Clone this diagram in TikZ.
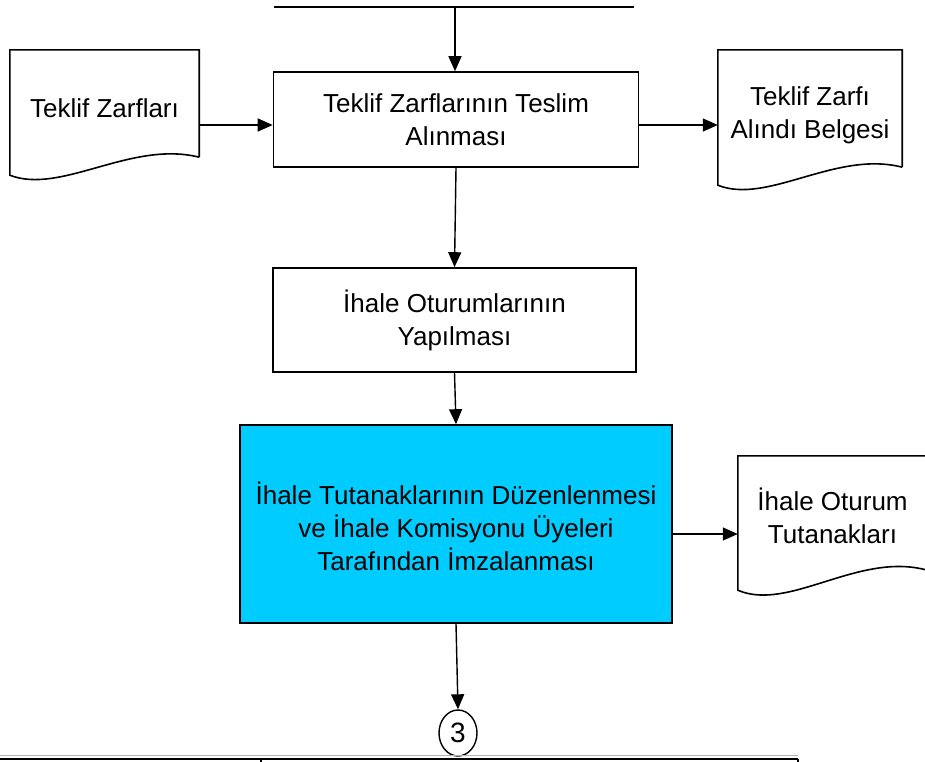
\documentclass[tikz,border=0pt]{standalone}
\usepackage{fontspec}
\setmainfont{Liberation Sans}
\usepackage{xcolor}
\definecolor{ihaleBlue}{HTML}{00CCFF}
\usepackage{tikz}
\usetikzlibrary{calc,arrows.meta,positioning,shapes.geometric}

% outline of a document symbol round a node: #1 node name, #2 wave drop
\newcommand{\docoutline}[2]{%
  \draw[docline] (#1.south east) -- (#1.north east) -- (#1.north west)
    -- ($(#1.south west)+(0,#2)$)
    .. controls ($(#1.south west)!0.27!(#1.south east)+(0,2.1*#2)$)
    and ($(#1.south west)!0.64!(#1.south east)+(0,-0.95*#2)$) .. (#1.south east);
}

\begin{document}
\begin{tikzpicture}[x=1pt, y=-1pt,
    txt/.style={font=\fontsize{26}{33}\selectfont, align=center, inner sep=0pt},
    box/.style={txt, draw, line width=1.6pt, fill=white},
    doc/.style={txt, minimum width=189pt},
    docline/.style={line width=1.6pt, line join=miter},
    arr/.style={-{Triangle[width=13pt,length=15pt]}, line width=1.4pt},
    conn/.style={draw, ellipse, line width=1.4pt, minimum width=38pt, minimum height=46pt, inner sep=0pt, font=\fontsize{28}{30}\selectfont}
  ]
    \useasboundingbox (0,0) rectangle (925,761);
    \clip (0,0) rectangle (925,761);

    % top line coming from the previous page
    \coordinate (topL) at (274,7);
    \coordinate (topR) at (634,7);
    \coordinate (topM) at (455,7);
    \draw[line width=1.4pt] (topL) -- (topR);

    \node[box, minimum width=365pt, minimum height=95pt] (teslim) at (456,119.5) {Teklif Zarflarının Teslim\\Alınması};
    \node[box, minimum width=363pt, minimum height=104pt] (oturum) at (454.5,320) {İhale Oturumlarının\\Yapılması};
    \node[box, fill=ihaleBlue, minimum width=432pt, minimum height=198pt] (tutanak) at (456,524) {\rule{0pt}{27pt}İhale Tutanaklarının Düzenlenmesi\\ve İhale Komisyonu Üyeleri\\Tarafından İmzalanması};

    \node[doc, minimum height=107pt] (zarflar) at (104.5,103.5) {\rule{0pt}{29pt}Teklif Zarfları};
    \node[doc, minimum width=184pt, minimum height=117pt] (belge) at (810,108.5) {\rule{0pt}{33pt}Teklif Zarfı\\Alındı Belgesi};
    \node[doc, minimum height=114pt] (tutdoc) at (832.5,513) {\rule{0pt}{29pt}İhale Oturum\\Tutanakları};
    \docoutline{zarflar}{18}
    \docoutline{belge}{18}
    \docoutline{tutdoc}{20}

    \node[conn] (c3) at (458,733) {3};

    \draw[arr] (topM) -- (topM |- teslim.north);
    \draw[arr] (zarflar.east |- 0,125) -- (teslim.west |- 0,125);
    \draw[arr] (teslim.east |- 0,125) -- (belge.west |- 0,125);
    \draw[arr] (teslim.south) -- (oturum.north);
    \draw[arr] (oturum.south) -- (tutanak.north);
    \draw[arr] (tutanak.east |- 0,534) -- (tutdoc.west |- 0,534);
    \draw[arr] (tutanak.south) -- (c3.north);

    % top of the table below
    \coordinate (tabL) at (0,759);
    \coordinate (tabR) at (798,759);
    \draw[gray!60, line width=0.8pt] (0,755.5) -- (798,755.5);
    \draw[line width=2.4pt] (tabL) -- (tabR);
    \draw[line width=1.6pt] (261,759) -- (261,762);
    \draw[line width=1.6pt] (tabR) -- (798,762);
\end{tikzpicture}
\end{document}
